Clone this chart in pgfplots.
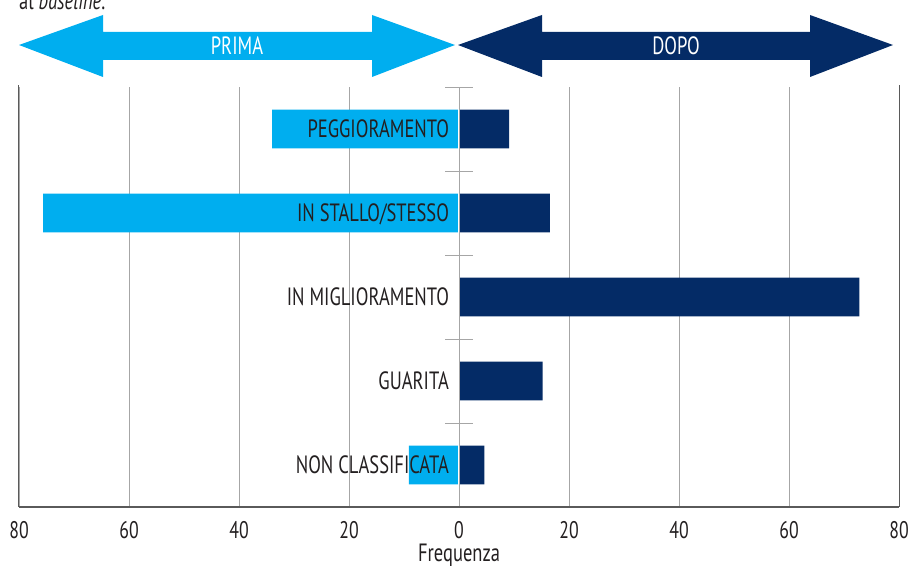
\documentclass[border=0pt]{standalone}
\usepackage{fontspec}
\setmainfont{PT Sans}[FakeStretch=0.74]
\usepackage{pgfplots}
\pgfplotsset{compat=1.18}
\definecolor{lblue}{HTML}{00AEEF}
\definecolor{navy}{HTML}{042B66}
\definecolor{txt}{HTML}{231F20}
\definecolor{gridc}{HTML}{A6A6A6}
\definecolor{axc}{HTML}{5A5A5A}
\newcommand{\lab}{\fontsize{25}{27}\selectfont}
\newcommand{\tlab}{\fontsize{24}{26}\selectfont}
\begin{document}
\begin{tikzpicture}[x=1pt,y=1pt]
\path[use as bounding box] (0,0) rectangle (910,567);
\node[anchor=base west, font=\lab, text=txt, inner sep=0pt] at (19,557) {al \textit{baseline}.};
\fill[lblue] (19,522) -- (103,552) -- (103,535) -- (372,535) -- (372,552) -- (455,522) -- (372,490) -- (372,507) -- (103,507) -- (103,490) -- cycle;
\fill[navy] (458,522) -- (542,552) -- (542,535) -- (810,535) -- (810,552) -- (893,522) -- (810,490) -- (810,507) -- (542,507) -- (542,490) -- cycle;
\node[text=white, font=\lab, anchor=base, inner sep=0pt] at (237,512) {PRIMA};
\node[text=white, font=\lab, anchor=base, inner sep=0pt] at (676,512) {DOPO};
\begin{axis}[
  at={(19pt,60pt)}, anchor=south west, scale only axis,
  width=880pt, height=420pt,
  xmin=-80, xmax=80, ymin=-0.5, ymax=4.5,
  xtick={-80,-60,-40,-20,0,20,40,60,80},
  xticklabels={80,60,40,20,0,20,40,60,80},
  ytick=\empty, major tick length=0pt,
  xmajorgrids, grid style={gridc, line width=0.9pt},
  axis line style={draw=none},
  /pgf/number format/assume math mode=true,
  xticklabel style={font=\tlab, text=txt, anchor=north, inner sep=0pt, yshift=-14pt},
  xlabel={Frequenza},
  xlabel style={font=\lab, text=txt, anchor=north, inner sep=0pt, at={(axis description cs:0.5,0)}, yshift=-37pt},
  clip=false,
]
\addplot[xbar, bar shift=0pt, bar width=0.46, fill=lblue, draw=none] coordinates {(-34,4) (-75.6,3) (0,2) (0,1) (-9.1,0)};
\addplot[xbar, bar shift=0pt, bar width=0.46, fill=navy, draw=none] coordinates {(9.1,4) (16.5,3) (72.8,2) (15.2,1) (4.6,0)};
\draw[white, line width=2.2pt] (axis cs:0,-0.5) -- (axis cs:0,4.5);
\draw[gridc, line width=0.9pt] (axis cs:0,-0.5) -- (axis cs:0,4.5);
\draw[gridc, line width=0.9pt] (axis cs:-2.5,0.5) -- (axis cs:2.5,0.5);
\draw[gridc, line width=0.9pt] (axis cs:-2.5,1.5) -- (axis cs:2.5,1.5);
\draw[gridc, line width=0.9pt] (axis cs:-2.5,2.5) -- (axis cs:2.5,2.5);
\draw[gridc, line width=0.9pt] (axis cs:-2.5,3.5) -- (axis cs:2.5,3.5);
\draw[gridc, line width=0.9pt] (axis cs:-2.5,4.5) -- (axis cs:2.5,4.5);
\draw[axc, line width=1pt] (rel axis cs:0,0) -- (rel axis cs:0,1.005);
\draw[axc, line width=1pt] (rel axis cs:1,0) -- (rel axis cs:1,1.005);
\draw[axc, line width=1.6pt] (rel axis cs:0,0) -- (rel axis cs:1,0);
\node[anchor=base east, font=\lab, text=txt, inner sep=0pt, yshift=-9pt] at (axis cs:-1.8,4) {PEGGIORAMENTO};
\node[anchor=base east, font=\lab, text=txt, inner sep=0pt, yshift=-9pt] at (axis cs:-1.8,3) {IN STALLO/STESSO};
\node[anchor=base east, font=\lab, text=txt, inner sep=0pt, yshift=-9pt] at (axis cs:-1.8,2) {IN MIGLIORAMENTO};
\node[anchor=base east, font=\lab, text=txt, inner sep=0pt, yshift=-9pt] at (axis cs:-1.8,1) {GUARITA};
\node[anchor=base east, font=\lab, text=txt, inner sep=0pt, yshift=-9pt] at (axis cs:-1.8,0) {NON CLASSIFICATA};
\end{axis}
\end{tikzpicture}
\end{document}
